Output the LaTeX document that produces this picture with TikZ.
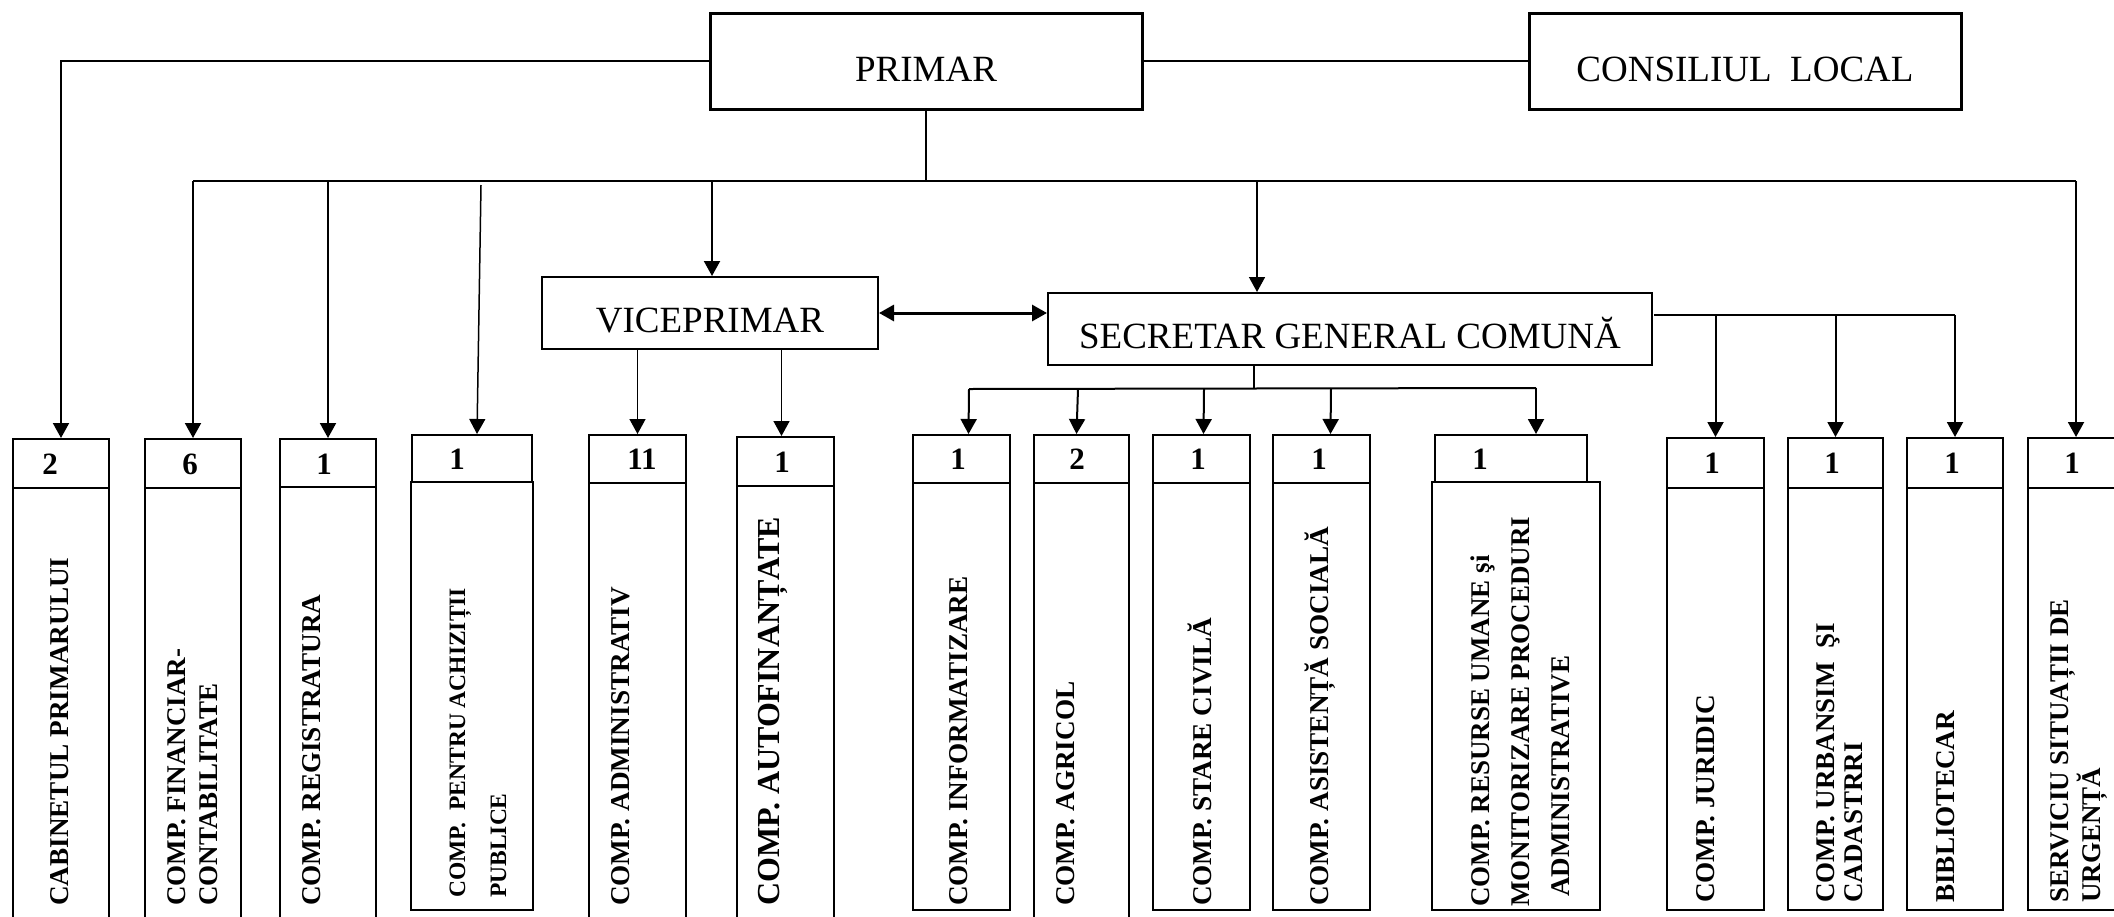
\documentclass[tikz,border=0pt]{standalone}
\usepackage{fontspec}
\setmainfont{Liberation Serif}
\usetikzlibrary{positioning,arrows.meta}

\begin{document}
\begin{tikzpicture}[x=1pt,y=-1pt]

\tikzstyle{chief} = [rectangle, draw=black, line width=3pt, minimum width=432pt, minimum height=96pt, text height=40pt, text depth=0pt, font=\fontsize{37}{44}\selectfont]
\tikzstyle{deputy} = [rectangle, draw=black, line width=2pt, minimum height=72pt, text height=39pt, text depth=0pt, font=\fontsize{37}{44}\selectfont]
\tikzstyle{headcell} = [rectangle, draw=black, line width=2pt, minimum width=96pt, minimum height=49pt, inner sep=0pt]
\tikzstyle{bodycell} = [rectangle, draw=black, line width=2pt, minimum width=96pt, inner sep=0pt]
\tikzstyle{staff} = [inner sep=0pt, font=\bfseries\fontsize{31}{36}\selectfont]
\tikzstyle{vlabel} = [rotate=90, anchor=west, align=left, inner sep=0pt, font=\bfseries\fontsize{27.2}{32}\selectfont]
\tikzstyle{link} = [line width=2pt]
\tikzstyle{arrow} = [line width=2pt, -{Triangle[length=15pt,width=16pt]}]
\tikzstyle{dblarrow} = [line width=3pt, {Triangle[length=15pt,width=16pt]}-{Triangle[length=15pt,width=16pt]}]

\useasboundingbox (0,0) rectangle (2114,916);

%% ---------------
%% -- TOP LEVEL --
%% ---------------

\node (primar) [chief] at (926,61) {PRIMAR};
\node (consiliu) [chief, right=384pt of primar] {CONSILIUL\ \ LOCAL};
\node (vice) [deputy, minimum width=336pt] at (710,313) {VICEPRIMAR};
\node (secretar) [deputy, minimum width=604pt] at (1350,329) {SECRETAR GENERAL COMUNĂ};

%% -----------------
%% -- COMPARTMENTS --
%% -----------------

% headers
\node (h1) [headcell] at (61,463.5) {};
\node (h2) [headcell] at (193,463.5) {};
\node (h3) [headcell, minimum height=48pt] at (328,463) {};
\node (h4) [headcell, minimum width=120pt, minimum height=47pt] at (472,458.5) {};
\node (h5) [headcell, minimum width=97pt, minimum height=48pt] at (637.5,459) {};
\node (h6) [headcell, minimum width=97pt] at (785.5,461.5) {};
\node (h7) [headcell, minimum width=97pt, minimum height=48pt] at (961.5,459) {};
\node (h8) [headcell, minimum width=95pt, minimum height=48pt] at (1081.5,459) {};
\node (h9) [headcell, minimum width=97pt, minimum height=48pt] at (1201.5,459) {};
\node (h10) [headcell, minimum width=97pt, minimum height=48pt] at (1321.5,459) {};
\node (h11) [headcell, minimum width=152pt, minimum height=47pt] at (1511,458.5) {};
\node (h12) [headcell, minimum width=97pt, minimum height=50pt] at (1715.5,463) {};
\node (h13) [headcell, minimum width=95pt, minimum height=50pt] at (1835.5,463) {};
\node (h14) [headcell, minimum height=50pt] at (1955,463) {};
\node (h15) [headcell, minimum height=50pt] at (2076,463) {};

% bodies
\node (b1) [bodycell, minimum height=452pt] at (61,714) {};
\node (b2) [bodycell, minimum height=452pt] at (193,714) {};
\node (b3) [bodycell, minimum height=453pt] at (328,713.5) {};
\node (b4) [bodycell, minimum width=122pt, minimum height=428pt] at (472,696) {};
\node (b5) [bodycell, minimum width=97pt, minimum height=457pt] at (637.5,711.5) {};
\node (b6) [bodycell, minimum width=97pt, minimum height=454pt] at (785.5,713) {};
\node (b7) [bodycell, minimum width=97pt, minimum height=427pt] at (961.5,696.5) {};
\node (b8) [bodycell, minimum width=95pt, minimum height=457pt] at (1081.5,711.5) {};
\node (b9) [bodycell, minimum width=97pt, minimum height=427pt] at (1201.5,696.5) {};
\node (b10) [bodycell, minimum width=97pt, minimum height=427pt] at (1321.5,696.5) {};
\node (b11) [bodycell, minimum width=168pt, minimum height=428pt] at (1516,696) {};
\node (b12) [bodycell, minimum width=97pt, minimum height=422pt] at (1715.5,699) {};
\node (b13) [bodycell, minimum width=95pt, minimum height=422pt] at (1835.5,699) {};
\node (b14) [bodycell, minimum height=422pt] at (1955,699) {};
\node (b15) [bodycell, minimum height=422pt] at (2076,699) {};

% staff numbers
\node (n1) [staff] at (50,464) {2};
\node (n2) [staff] at (190,464) {6};
\node (n3) [staff] at (324,464) {1};
\node (n4) [staff] at (457,459) {1};
\node (n5) [staff] at (642,459) {11};
\node (n6) [staff] at (782,462) {1};
\node (n7) [staff] at (958,459) {1};
\node (n8) [staff] at (1077,459) {2};
\node (n9) [staff] at (1198,459) {1};
\node (n10) [staff] at (1319,459) {1};
\node (n11) [staff] at (1480,459) {1};
\node (n12) [staff] at (1712,463) {1};
\node (n13) [staff] at (1832,463) {1};
\node (n14) [staff] at (1952,463) {1};
\node (n15) [staff] at (2072,463) {1};

% names
\node (t1) [vlabel] at (60,906) {CABINETUL PRIMARULUI};
\node (t2) [vlabel, font=\bfseries\fontsize{27}{32}\selectfont] at (193,906) {COMP. FINANCIAR-\\CONTABILITATE};
\node (t3) [vlabel] at (312,906) {COMP. REGISTRATURA};
\node (t4) [vlabel, font=\bfseries\fontsize{23.5}{41}\selectfont] at (478,898) {COMP.\ \ PENTRU ACHIZIȚII\\PUBLICE};
\node (t5) [vlabel] at (621,906) {COMP. ADMINISTRATIV};
\node (t6) [vlabel, font=\bfseries\fontsize{32}{38}\selectfont] at (773,906) {COMP. AUTOFINANȚATE};
\node (t7) [vlabel] at (959,906) {COMP. INFORMATIZARE};
\node (t8) [vlabel] at (1066,906) {COMP. AGRICOL};
\node (t9) [vlabel] at (1200,906) {COMP. STARE CIVILĂ};
\node (t10) [vlabel] at (1320,906) {COMP. ASISTENȚĂ SOCIALĂ};
\node (t11) [vlabel, font=\bfseries\fontsize{27}{40}\selectfont] at (1520,907) {COMP. RESURSE UMANE şi\\MONITORIZARE PROCEDURI\\\hspace*{10pt}ADMINISTRATIVE};
\node (t12) [vlabel] at (1706,903) {COMP. JURIDIC};
\node (t13) [vlabel, font=\bfseries\fontsize{27}{28}\selectfont] at (1840,903) {COMP. URBANSIM\ \ ŞI\\CADASTRRI};
\node (t14) [vlabel] at (1946,903) {BIBLIOTECAR};
\node (t15) [vlabel, font=\bfseries\fontsize{27}{30}\selectfont] at (2079,903) {SERVICIU SITUAȚII DE\\URGENȚĂ};

%% ----------------
%% -- CONNECTORS --
%% ----------------

\coordinate (busL) at (193,181);
\coordinate (busR) at (2076,181);
\coordinate (pa) at (481,185);
\coordinate (sx) at (1254,365);
\coordinate (sbL) at (969,389);
\coordinate (sbR) at (1536,388);
\coordinate (sr) at (1654,315);

\draw [link] (primar) -- (consiliu);
\draw [arrow] (primar.west) -| (h1.north);
\draw [link, line width=1.5pt] (primar.south) -- (primar.south |- busL);
\draw [link] (busL) -- (busR);

\draw [arrow] (busL) -- (h2.north);
\draw [arrow] (h3.north |- busL) -- (h3.north);
\draw [arrow, line width=1.5pt] (pa) -- ([xshift=5pt]h4.north);
\draw [arrow] ([xshift=2pt]vice.north |- busL) -- ([xshift=2pt]vice.north);
\draw [arrow, line width=1.5pt] ([xshift=-93pt]secretar.north |- busL) -- ([xshift=-93pt]secretar.north);
\draw [arrow] (busR) -- (h15.north);

\draw [dblarrow] (vice.east) -- (vice.east -| secretar.west);

\draw [arrow, line width=1.5pt] (vice.south -| h5.north) -- (h5.north);
\draw [arrow, line width=1.5pt] ([xshift=-4pt]vice.south -| h6.north) -- ([xshift=-4pt]h6.north);

\draw [link, line width=1.5pt] (sx) -- (sx |- sbL);
\draw [link] (sbL) -- (sbR);
\draw [arrow] (sbL) -- ([xshift=7pt]h7.north);
\draw [arrow] (1078,389) -- ([xshift=-5pt]h8.north);
\draw [arrow] (1204,389) -- ([xshift=2pt]h9.north);
\draw [arrow] (1331,388) -- ([xshift=9pt]h10.north);
\draw [arrow] (sbR) -- ([xshift=25pt]h11.north);

\draw [link] (sr) -- (sr -| h14.north);
\draw [arrow] (sr -| h12.north) -- (h12.north);
\draw [arrow] (sr -| h13.north) -- (h13.north);
\draw [arrow] (sr -| h14.north) -- (h14.north);

\end{tikzpicture}
\end{document}
